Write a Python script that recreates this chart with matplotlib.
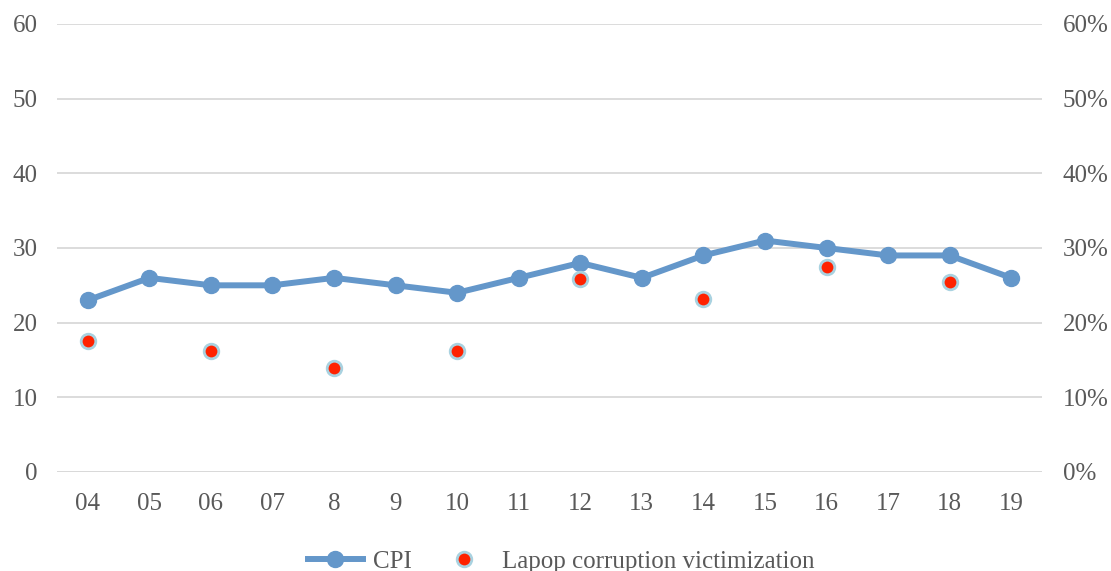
import matplotlib
matplotlib.use("Agg")
import matplotlib.pyplot as plt
from matplotlib.ticker import FuncFormatter

years = ["04", "05", "06", "07", "8", "9", "10", "11", "12", "13", "14", "15", "16", "17", "18", "19"]
cpi = [23, 26, 25, 25, 26, 25, 24, 26, 28, 26, 29, 31, 30, 29, 29, 26]
lapop_idx = [0, 2, 4, 6, 8, 10, 12, 14]
lapop = [0.175, 0.162, 0.139, 0.162, 0.258, 0.232, 0.274, 0.254]

plt.rcParams['font.family'] = ['Liberation Serif', 'DejaVu Serif']
txt = "#595959"
fs = 18

fig = plt.figure(figsize=(11.11, 5.71), dpi=100)
ax = fig.add_axes([0.0513, 0.1734, 0.8866, 0.7846])
ax2 = ax.twinx()

x = list(range(len(years)))
ax.plot(x, cpi, color="#6497CA", lw=4.3, marker="o", ms=11.5, label="CPI", zorder=3)
ax2.plot(lapop_idx, lapop, ls="none", marker="o", ms=10.5, mfc="#FF2200",
         mec="#A9D2E0", mew=2, label="Lapop corruption victimization", zorder=3)

ax.set_xlim(-0.5, len(years) - 0.5)
ax.set_ylim(0, 60)
ax2.set_ylim(0, 0.6)
ax.set_yticks(range(0, 61, 10))
ax2.set_yticks([i / 10 for i in range(7)])
ax2.yaxis.set_major_formatter(FuncFormatter(lambda v, p: f"{round(v * 100)}%"))
ax.set_xticks(x)
ax.set_xticklabels(years)

ax.grid(axis="y", color="#D9D9D9", lw=1.3)
ax.set_axisbelow(True)
for a in (ax, ax2):
    for s in a.spines.values():
        s.set_visible(False)
    a.tick_params(length=0, labelsize=fs, colors=txt)
ax.tick_params(axis="y", pad=14)
ax.tick_params(axis="x", pad=15)
ax2.tick_params(pad=15)
ax.axhline(0, color="#D9D9D9", lw=1.3)

h1, l1 = ax.get_legend_handles_labels()
h2, l2 = ax2.get_legend_handles_labels()
fig.legend(h1 + h2, l1 + l2, loc="center", bbox_to_anchor=(0.505, 0.017), ncol=2,
           frameon=False, fontsize=fs, labelcolor=txt, handlelength=2.2,
           columnspacing=1.0, handletextpad=0.4)

fig.savefig("out.png", dpi=100)
